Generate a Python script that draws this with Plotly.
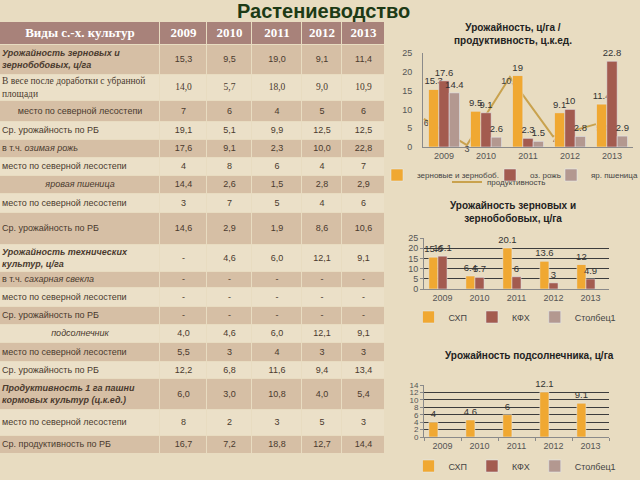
import itertools
import plotly.graph_objects as go

years = ["2009", "2010", "2011", "2012", "2013"]

# ---- table data ----
header = ["Виды с.-х. культур", "2009", "2010", "2011", "2012", "2013"]
row_labels = [
    "<b><i>Урожайность зерновых и<br>зернобобовых, ц/га</i></b>",
    "В весе после доработки с убранной<br>площади",
    "место по северной лесостепи",
    "Ср. урожайность по РБ",
    "в т.ч. <i>озимая рожь</i>",
    "место по северной лесостепи",
    "<i>яровая пшеница</i>",
    "место по северной лесостепи",
    "Ср. урожайность по РБ",
    "<b><i>Урожайность технических<br>культур, ц/га</i></b>",
    "в т.ч. <i>сахарная свекла</i>",
    "место по северной лесостепи",
    "Ср. урожайность по РБ",
    "<i>подсолнечник</i>",
    "место по северной лесостепи",
    "Ср. урожайность по РБ",
    "<b><i>Продуктивность 1 га пашни<br>кормовых культур (ц.к.ед.)</i></b>",
    "место по северной лесостепи",
    "Ср. продуктивность по РБ",
]
col_2009 = ["15,3", "14,0", "7", "19,1", "17,6", "4", "14,4", "3", "14,6", "-", "-", "-", "-", "4,0", "5,5", "12,2", "6,0", "8", "16,7"]
col_2010 = ["9,5", "5,7", "6", "5,1", "9,1", "8", "2,6", "7", "2,9", "4,6", "-", "-", "-", "4,6", "3", "6,8", "3,0", "2", "7,2"]
col_2011 = ["19,0", "18,0", "4", "9,9", "2,3", "6", "1,5", "5", "1,9", "6,0", "-", "-", "-", "6,0", "4", "11,6", "10,8", "3", "18,8"]
col_2012 = ["9,1", "9,0", "5", "12,5", "10,0", "4", "2,8", "4", "8,6", "12,1", "-", "-", "-", "12,1", "3", "9,4", "4,0", "5", "12,7"]
col_2013 = ["11,4", "10,9", "6", "12,5", "22,8", "7", "2,9", "6", "10,6", "9,1", "-", "-", "-", "9,1", "3", "13,4", "5,4", "3", "14,4"]

# table geometry (px): column widths, header height, row heights, label alignment
col_widths = [160, 47, 45, 50, 40, 43]
header_h = 23
row_heights = [30, 26, 21, 18, 18, 18, 18, 19, 32, 27, 16, 19, 18, 18, 19, 17, 31, 26, 18]
label_centered = {2, 6, 13}
serif_rows = {1}

# ---- chart 1: урожайность / продуктивность ----
grain = [15.3, 9.5, 19, 9.1, 11.4]
rye = [17.6, 9.1, 2.3, 10, 22.8]
wheat = [14.4, 2.6, 1.5, 2.8, 2.9]
productivity = [6, 3, 10.8, 4, 5.4]
productivity_text = ["6", "3", "10,8", "4", "5,4"]

# ---- chart 2: зерновые по категориям ----
grain_shp = [15.6, 6.4, 20.1, 13.6, 12]
grain_kfh = [16.1, 5.7, 6, 3, 4.9]

# ---- chart 3: подсолнечник ----
sun_shp = [4, 4.6, 6, 12.1, 9.1]

empty = [None] * 5

ORANGE = "#f0a832"
BROWN = "#a35b4f"
MAUVE = "#b39890"
LINE = "#c9a24e"
BG = "#e8dcc1"
DARK_ROW = "#d6bfa5"
LIGHT_ROW = "#ebe0c8"
HEAD = "#a8827a"
TXT = "#4a3a2e"
AX = "#555555"
FONT = "Liberation Sans"
SERIF = "Liberation Serif"

fig = go.Figure()

# ---- table drawn on its own axes ----
x_edges = [0] + list(itertools.accumulate(col_widths))
y_edges = [0, header_h] + [header_h + s for s in itertools.accumulate(row_heights)]
x_mid = [(a + b) / 2 for a, b in zip(x_edges[:-1], x_edges[1:])]
y_mid = [(a + b) / 2 for a, b in zip(y_edges[:-1], y_edges[1:])]
n_rows = len(row_labels)
z = [[2] * 6] + [[i % 2] * 6 for i in range(n_rows)]
row_family = [SERIF if i in serif_rows else FONT for i in range(n_rows)]
row_size = [9.5 if i in serif_rows else 9 for i in range(n_rows)]

fig.add_trace(go.Heatmap(
    x=x_edges, y=y_edges, z=z, xaxis="x5", yaxis="y5",
    zmin=0, zmax=2, colorscale=[[0, DARK_ROW], [0.5, LIGHT_ROW], [1, HEAD]],
    showscale=False, xgap=1, ygap=1, hoverinfo="skip",
))
fig.add_trace(go.Scatter(
    x=x_mid, y=[y_mid[0]] * 6, xaxis="x5", yaxis="y5", mode="text",
    text=["<b>%s</b>" % h for h in header], textposition="middle center",
    textfont=dict(family=SERIF, size=13, color="white"),
    showlegend=False, hoverinfo="skip", cliponaxis=False,
))
fig.add_trace(go.Scatter(
    x=[x_mid[0] if i in label_centered else 2 for i in range(n_rows)],
    y=y_mid[1:], xaxis="x5", yaxis="y5", mode="text", text=row_labels,
    textposition=["middle center" if i in label_centered else "middle right" for i in range(n_rows)],
    textfont=dict(family=row_family, size=row_size, color=TXT),
    showlegend=False, hoverinfo="skip", cliponaxis=False,
))
for j, col in enumerate([col_2009, col_2010, col_2011, col_2012, col_2013], start=1):
    fig.add_trace(go.Scatter(
        x=[x_mid[j]] * n_rows, y=y_mid[1:], xaxis="x5", yaxis="y5", mode="text", text=col,
        textposition="middle center",
        textfont=dict(family=row_family, size=row_size, color=TXT),
        showlegend=False, hoverinfo="skip", cliponaxis=False,
    ))

# ---- chart 1 line (under the bars, on hidden axes) ----
fig.add_trace(go.Scatter(
    x=years, y=productivity, xaxis="x", yaxis="y",
    mode="lines+text", text=productivity_text,
    textposition=["bottom right", "bottom center", "bottom center", "bottom right", "bottom right"],
    textfont=dict(size=9, color="#444"),
    line=dict(color=LINE, width=2), name="продуктивность",
    legend="legend4", cliponaxis=False, hoverinfo="skip",
))
for vals, col, nm, lg in [(grain, ORANGE, "зерновые и зернобоб.", "legend"),
                          (rye, BROWN, "оз. рожь", "legend5"),
                          (wheat, MAUVE, "яр. пшеница", "legend6")]:
    fig.add_trace(go.Bar(
        x=years, y=vals, xaxis="x2", yaxis="y2", name=nm, marker_color=col,
        text=[("%g" % v) for v in vals], textposition="outside", constraintext="none",
        textfont=dict(size=9.5, color="#333"), cliponaxis=False, legend=lg,
    ))

# ---- chart 2 ----
for vals, col, nm in [(grain_shp, ORANGE, "СХП"), (grain_kfh, BROWN, "КФХ"), (empty, MAUVE, "Столбец1")]:
    fig.add_trace(go.Bar(
        x=years, y=vals, xaxis="x3", yaxis="y3", name=nm, marker_color=col,
        text=[("%g" % v) if v is not None else "" for v in vals], textposition="outside",
        constraintext="none", textfont=dict(size=9.5, color="#333"), cliponaxis=False,
        legend="legend2",
    ))

# ---- chart 3 ----
for vals, col, nm in [(sun_shp, ORANGE, "СХП"), (empty, BROWN, "КФХ"), (empty, MAUVE, "Столбец1")]:
    fig.add_trace(go.Bar(
        x=years, y=vals, xaxis="x4", yaxis="y4", name=nm, marker_color=col,
        text=[("%g" % v) if v is not None else "" for v in vals], textposition="outside",
        constraintext="none", textfont=dict(size=9.5, color="#333"), cliponaxis=False,
        legend="legend3",
    ))

tickf = dict(family=FONT, size=9, color=AX)
c12 = [423 / 640, 633 / 640]
c23 = [424 / 640, 609 / 640]


def leg(px, py, size=8, xanchor="left"):
    return dict(orientation="h", x=px / 640, xanchor=xanchor, y=1 - py / 480, yanchor="middle",
                font=dict(size=size, color="#444"), bgcolor="rgba(0,0,0,0)",
                itemwidth=30, borderwidth=0)


def title(text, px, py):
    return dict(text="<b>%s</b>" % text, x=px / 640, y=1 - py / 480, xref="paper", yref="paper",
                xanchor="center", yanchor="middle", showarrow=False,
                font=dict(family=FONT, size=10, color="#222"))


fig.update_layout(
    width=640, height=480, margin=dict(l=0, r=0, t=0, b=0, autoexpand=False),
    paper_bgcolor=BG, plot_bgcolor="rgba(0,0,0,0)",
    font=dict(family=FONT, color=TXT),
    barmode="group", bargap=0.26, bargroupgap=0,
    showlegend=True,
    # table axes
    xaxis5=dict(domain=[0, 385 / 640], anchor="y5", range=[0, x_edges[-1]], visible=False),
    yaxis5=dict(domain=[1 - 454 / 480, 1 - 22 / 480], anchor="x5", range=[y_edges[-1], 0], visible=False),
    # chart 1 hidden axes for the line
    xaxis=dict(domain=c12, anchor="y", type="category", range=[-0.02, 4.86], visible=False),
    yaxis=dict(domain=[1 - 147 / 480, 1 - 53 / 480], anchor="x", range=[2.78, 13.56], visible=False),
    xaxis2=dict(overlaying="x", anchor="y2", type="category", showline=True, linecolor="#8a8a8a",
                tickfont=tickf, ticks=""),
    yaxis2=dict(overlaying="y", anchor="x2", range=[0, 25], dtick=5, showline=True, linecolor="#8a8a8a",
                showgrid=False, zeroline=False, tickfont=tickf, ticks="", ticklabelstandoff=8),
    # chart 2
    xaxis3=dict(domain=c23, anchor="y3", type="category", showline=True, linecolor="#8a8a8a",
                tickfont=tickf, ticks=""),
    yaxis3=dict(domain=[1 - 289 / 480, 1 - 238 / 480], anchor="x3", range=[0, 25], dtick=5,
                showline=True, linecolor="#8a8a8a", gridcolor="#3c3c3c", gridwidth=1,
                zeroline=False, tickfont=tickf, ticks="outside", ticklen=3, tickcolor="#8a8a8a"),
    # chart 3
    xaxis4=dict(domain=c23, anchor="y4", type="category", showline=True, linecolor="#8a8a8a",
                tickfont=tickf, ticks="outside", tickson="boundaries", ticklen=3, tickcolor="#8a8a8a"),
    yaxis4=dict(domain=[1 - 437 / 480, 1 - 385 / 480], anchor="x4", range=[0, 14], dtick=2,
                showline=True, linecolor="#8a8a8a", gridcolor="#3c3c3c", gridwidth=1,
                zeroline=False, tickfont=dict(family=FONT, size=8, color=AX),
                ticks="outside", ticklen=3, tickcolor="#8a8a8a"),
    legend=leg(377, 175),
    legend5=leg(490, 175),
    legend6=leg(551, 175),
    legend4=leg(447, 182),
    legend2=leg(515, 317, size=9, xanchor="center"),
    legend3=leg(515, 466, size=9, xanchor="center"),
    annotations=[
        dict(text="<b>Растениеводство</b>", x=323 / 640, y=1 - 11 / 480, xref="paper", yref="paper",
             xanchor="center", yanchor="middle", showarrow=False,
             font=dict(family=FONT, size=20, color="#1d3a16")),
        title("Урожайность, ц/га /<br>продуктивность, ц.к.ед.", 513, 34),
        title("Урожайность зерновых и<br>зернобобовых, ц/га", 513, 212),
        title("Урожайность подсолнечника, ц/га", 529, 355),
    ],
)

fig.write_html("out.html", config={"displayModeBar": False},
               post_script="document.body.style.margin='0';")
